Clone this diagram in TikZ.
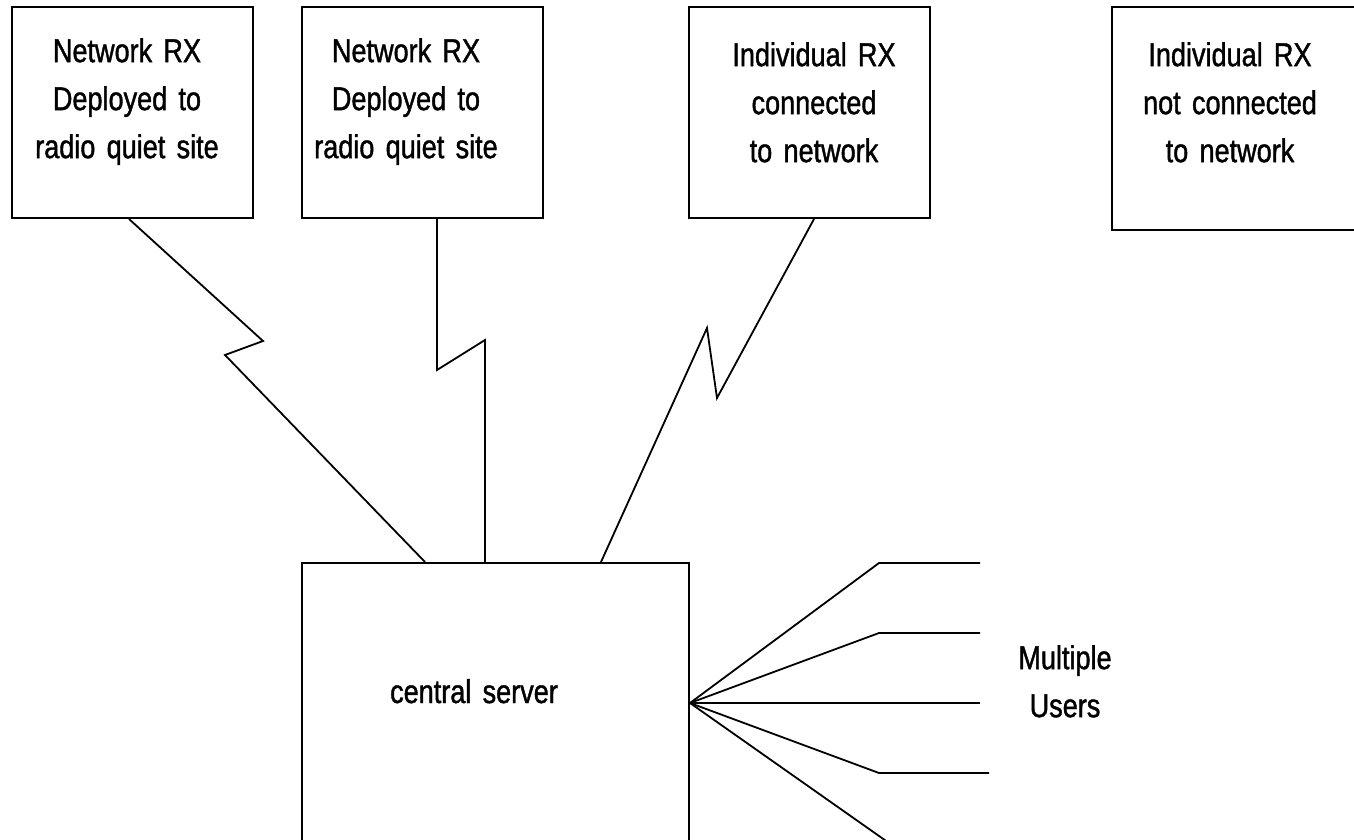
\documentclass[tikz,border=0pt]{standalone}
\usepackage{fontspec}
\setmainfont[FakeStretch=0.82,FakeBold=1.2,WordSpace=1.5]{Liberation Sans}
\begin{document}
\begin{tikzpicture}[x=1pt,y=-1pt,
  box/.style={draw=black, line width=2pt, fill=none, inner sep=0pt},
  lbl/.style={inner sep=0pt, align=center, font=\fontsize{33}{48}\selectfont},
  wire/.style={draw=black, line width=1.8pt, line join=miter}]
\useasboundingbox[fill=white] (0,0) rectangle (1354,840);
% boxes
\node[box, minimum width=241, minimum height=211] (b1) at (132.5,112.5) {};
\node[box, minimum width=241, minimum height=211] (b2) at (422.5,112.5) {};
\node[box, minimum width=241, minimum height=211] (b3) at (809.5,112.5) {};
\node[box, minimum width=250, minimum height=223] (b4) at (1237,118.5) {};
\node[box, minimum width=387, minimum height=297] (srv) at (495.5,711.5) {};
% labels
\node[lbl, anchor=north] (t1) at (127,38) {Network RX\\Deployed to\\radio quiet site};
\node[lbl, anchor=north] (t2) at (406,38) {Network RX\\Deployed to\\radio quiet site};
\node[lbl, anchor=north] (t3) at (814,42) {Individual RX\\connected\\to network};
\node[lbl, anchor=north] (t4) at (1230,42) {Individual RX\\not connected\\to network};
\node[lbl, anchor=base] (ts) at (474,703) {central server};
\node[lbl, anchor=north] (tu) at (1065,645) {Multiple\\Users};
% lightning connectors
\coordinate (p1a) at (263,341);
\coordinate (p1b) at (225,355);
\coordinate (p2a) at (437,370);
\coordinate (p2b) at (485,340);
\coordinate (p3a) at (717,398);
\coordinate (p3b) at (707,328);
\draw[wire] (b1.south -| 129,0) -- (p1a) -- (p1b) -- (srv.north -| 425,0);
\draw[wire] (b2.south -| p2a) -- (p2a) -- (p2b) -- (srv.north -| p2b);
\draw[wire] (b3.south -| 814,0) -- (p3a) -- (p3b) -- (srv.north -| 601,0);
% user fan
\coordinate (hub) at (srv.east |- 0,703);
\coordinate (u1) at (879,563); \coordinate (e1) at (980,563);
\coordinate (u2) at (879,633); \coordinate (e2) at (980,633);
\coordinate (e3) at (980,703);
\coordinate (u4) at (879,773); \coordinate (e4) at (989,773);
\coordinate (u5) at (889,843); \coordinate (e5) at (980,843);
\draw[wire] (hub) -- (u1) -- (e1);
\draw[wire] (hub) -- (u2) -- (e2);
\draw[wire] (hub) -- (e3);
\draw[wire] (hub) -- (u4) -- (e4);
\draw[wire] (hub) -- (u5) -- (e5);
\end{tikzpicture}
\end{document}
